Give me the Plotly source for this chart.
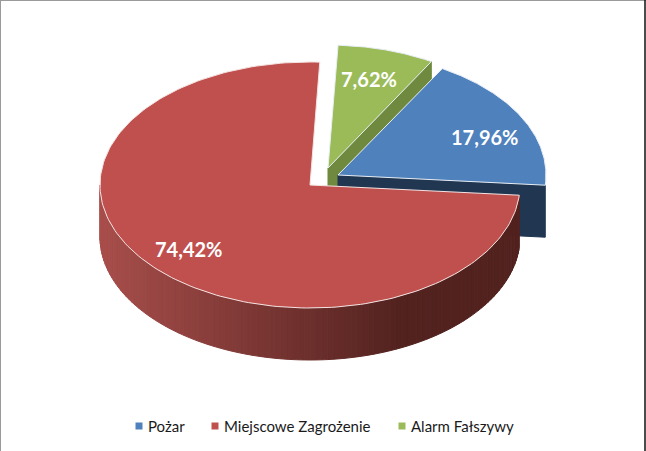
"""
3D-look pie chart of incidents by type.

Plotly's pie trace is flat, so the tilted discs are drawn as filled scatter
polygons whose angles come from the slice values.
"""

import numpy as np
import plotly.graph_objects as go


# ==========================================================
# Data
# ==========================================================

categories = ["Pożar", "Miejscowe Zagrożenie", "Alarm Fałszywy"]
shares = [17.96, 74.42, 7.62]


# ==========================================================
# Style and geometry
# ==========================================================

TOP_COLORS = ["#4F81BD", "#C0504D", "#9BBB59"]
WALL_COLORS = ["#213751", None, "#6F8A3E"]

# tilted disc, in pixels of the 646x451 page
SLICE_RX = [208, 210, 206]
RY = 123
DEPTH = 52
START_ANGLE = 30.1

# where each slice's apex ends up after the explosion
APEX = [(338, 175), (310, 185), (328, 168)]
LABEL_POS = [(484, 137), (188, 249), (369, 79)]

LEGEND_X = [139, 215, 402]
LEGEND_TEXT_GAP = 9
LEGEND_Y = 426

RED_WALL_LEFT = np.array([168, 78, 75])
RED_WALL_RIGHT = np.array([82, 34, 31])
RED_WALL_DARK_X = 400


def rim(apex, rx, deg):
    """Point on the tilted rim, angle clockwise from the top."""
    rad = np.radians(deg)
    return apex[0] + rx * np.sin(rad), apex[1] - RY * np.cos(rad)


def slice_polygon(apex, rx, a0, a1):
    angles = np.linspace(a0, a1, 200)
    xs, ys = rim(apex, rx, angles)
    return [apex[0], *xs, apex[0]], [apex[1], *ys, apex[1]]


def add_fill(fig, xs, ys, color, line_color=None, line_width=1):
    fig.add_trace(go.Scatter(
        x=xs,
        y=ys,
        mode="lines",
        fill="toself",
        fillcolor=color,
        line=dict(color=line_color or color, width=line_width),
        hoverinfo="skip",
        showlegend=False,
    ))


def frame_line(x0, y0, x1, y1, color, width=1):
    return dict(
        type="line",
        xref="x",
        yref="y",
        x0=x0,
        y0=y0,
        x1=x1,
        y1=y1,
        line=dict(color=color, width=width),
    )


# ==========================================================
# Figure
# ==========================================================

fig = go.Figure()

angles = START_ANGLE + np.cumsum([0, *shares]) * 3.6
spans = {name: (angles[i], angles[i + 1]) for i, name in enumerate(categories)}

# back to front: green, blue, red
for i in [2, 0]:
    a0, a1 = spans[categories[i]]
    apex = APEX[i]
    ex, ey = rim(apex, SLICE_RX[i], a1)
    add_fill(
        fig,
        [apex[0], ex, ex, apex[0], apex[0]],
        [apex[1], ey, ey + DEPTH, apex[1] + DEPTH, apex[1]],
        WALL_COLORS[i],
    )
    xs, ys = slice_polygon(apex, SLICE_RX[i], a0, a1)
    add_fill(fig, xs, ys, TOP_COLORS[i], "#E8EEF5", 1)

# red outer wall, as thin strips to get the horizontal gradient
a0, a1 = spans[categories[1]]
apex = APEX[1]
rx = SLICE_RX[1]
strip_edges = np.linspace(a0, 270, 110)
for s0, s1 in zip(strip_edges[:-1], strip_edges[1:]):
    sub = np.linspace(s0, s1, 4)
    xs, ys = rim(apex, rx, sub)
    t = min(1, max(0, (RED_WALL_DARK_X - xs.mean()) / (RED_WALL_DARK_X - (apex[0] - rx))))
    rgb = RED_WALL_RIGHT + (RED_WALL_LEFT - RED_WALL_RIGHT) * t
    color = f"rgb({rgb[0]:.0f},{rgb[1]:.0f},{rgb[2]:.0f})"
    add_fill(
        fig,
        [*xs, *xs[::-1], xs[0]],
        [*ys, *(ys[::-1] + DEPTH), ys[0]],
        color,
    )

xs, ys = slice_polygon(apex, rx, a0, a1)
add_fill(fig, xs, ys, TOP_COLORS[1], "#F4E4E3", 1)

# legend row: square marker with its label to the right
for name, color, lx in zip(categories, TOP_COLORS, LEGEND_X):
    fig.add_trace(go.Scatter(
        x=[lx],
        y=[LEGEND_Y],
        mode="markers",
        marker=dict(symbol="square", size=7, color=color),
        hoverinfo="skip",
        showlegend=False,
    ))
    fig.add_annotation(
        x=lx + LEGEND_TEXT_GAP,
        y=LEGEND_Y,
        text=name,
        xanchor="left",
        showarrow=False,
        xshift=-2,
        font=dict(family="Lato", size=15, color="#1A1A1A"),
    )

for share, (lx, ly) in zip(shares, LABEL_POS):
    fig.add_annotation(
        x=lx,
        y=ly,
        text=f"{share:.2f}".replace(".", ",") + "%",
        showarrow=False,
        font=dict(family="Lato", size=20, color="white", weight="bold"),
    )

fig.update_layout(
    width=646,
    height=451,
    margin=dict(l=0, r=0, t=0, b=0),
    paper_bgcolor="white",
    plot_bgcolor="white",
    showlegend=False,
    xaxis=dict(range=[0, 646], visible=False, fixedrange=True),
    yaxis=dict(range=[451, 0], visible=False, fixedrange=True),
    shapes=[
        frame_line(0, 0.5, 646, 0.5, "#9A9A9A"),
        frame_line(0.5, 0, 0.5, 451, "#9A9A9A"),
        frame_line(645, 0, 645, 451, "#111111", 1.5),
    ],
)

fig.write_html(
    "out.html",
    config=dict(displayModeBar=False),
    post_script="document.body.style.margin = '0';",
)
